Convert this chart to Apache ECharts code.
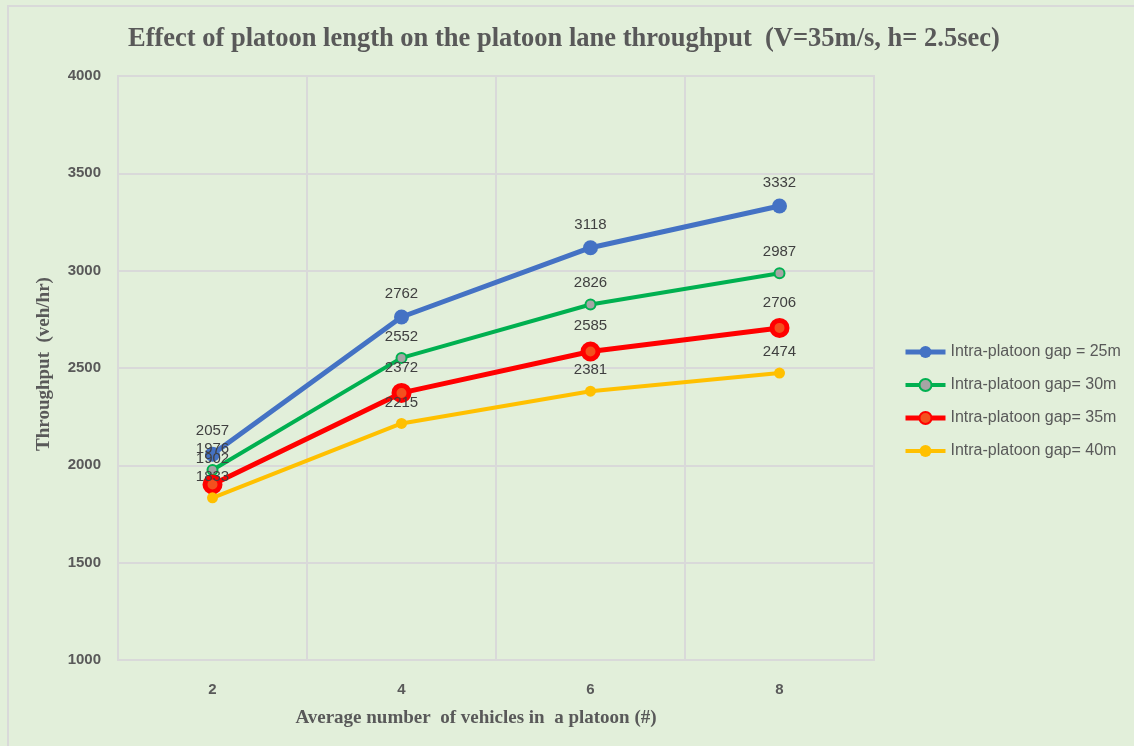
<!DOCTYPE html>
<html>
<head>
<meta charset="utf-8">
<title>Platoon lane throughput</title>
<script src="https://cdn.jsdelivr.net/npm/echarts@6/dist/echarts.min.js"></script>
<style>
  html, body { margin: 0; padding: 0; background: #E2EFDA; }
  #chart { width: 1134px; height: 746px; }
</style>
</head>
<body>
<div id="chart"></div>
<script>
// Average number of vehicles per platoon
const categories = ['2', '4', '6', '8'];

// Lane throughput (veh/hr) for each intra-platoon gap
const gap25 = [2057, 2762, 3118, 3332];
const gap30 = [1976, 2552, 2826, 2987];
const gap35 = [1902, 2372, 2585, 2706];
const gap40 = [1833, 2215, 2381, 2474];

const seriesNames = [
  'Intra-platoon gap = 25m',
  'Intra-platoon gap= 30m',
  'Intra-platoon gap= 35m',
  'Intra-platoon gap= 40m'
];

const yTicks = { min: 1000, max: 4000, interval: 500 };

const SANS = 'Liberation Sans, Arial, sans-serif';
const SERIF_FONT = '"Liberation Serif", "Times New Roman", serif';

const labelStyle = {
  show: true,
  position: 'top',
  distance: 8,
  color: '#404040',
  fontSize: 15,
  fontFamily: SANS
};

function lineSeries(name, data, color, width, size, itemStyle) {
  return {
    name: name,
    type: 'line',
    data: data,
    symbol: 'circle',
    symbolSize: size,
    lineStyle: { color: color, width: width },
    itemStyle: Object.assign({ color: color }, itemStyle || {}),
    label: labelStyle,
    emphasis: { disabled: true },
    animation: false
  };
}

const chart = echarts.init(document.getElementById('chart'));
chart.setOption({
  backgroundColor: '#E2EFDA',
  animation: false,
  title: {
    text: 'Effect of platoon length on the platoon lane throughput  (V=35m/s, h= 2.5sec)',
    left: 128,
    top: 26,
    padding: 0,
    textStyle: {
      fontFamily: SERIF_FONT,
      fontWeight: 'bold',
      fontSize: 26.5,
      color: '#595959'
    }
  },
  grid: {
    left: 118, right: 260, top: 76, bottom: 86,
    show: true,
    borderColor: '#D9D9D9',
    borderWidth: 2,
    backgroundColor: 'transparent'
  },
  legend: {
    orient: 'vertical',
    left: 903,
    top: 344,
    padding: 0,
    itemWidth: 40,
    itemHeight: 15,
    itemGap: 17,
    textStyle: {
      color: '#595959',
      fontSize: 16,
      fontFamily: SANS
    },
    data: [
      { name: seriesNames[0], lineStyle: { width: 5 } },
      { name: seriesNames[1], lineStyle: { width: 4 } },
      { name: seriesNames[2], lineStyle: { width: 5 } },
      { name: seriesNames[3], lineStyle: { width: 4 } }
    ]
  },
  xAxis: {
    type: 'category',
    data: categories,
    boundaryGap: true,
    axisLine: { show: true, lineStyle: { color: '#D9D9D9', width: 2 } },
    axisTick: { show: false },
    splitLine: { show: true, lineStyle: { color: '#D9D9D9', width: 2 } },
    axisLabel: {
      margin: 22,
      color: '#595959',
      fontWeight: 'bold',
      fontSize: 15,
      fontFamily: SANS
    }
  },
  yAxis: {
    type: 'value',
    min: yTicks.min,
    max: yTicks.max,
    interval: yTicks.interval,
    axisLine: { show: false },
    axisTick: { show: false },
    splitLine: { show: true, lineStyle: { color: '#D9D9D9', width: 2 } },
    axisLabel: {
      margin: 17,
      color: '#595959',
      fontWeight: 'bold',
      fontSize: 15,
      fontFamily: SANS,
      formatter: function (v) { return String(v); }
    }
  },
  graphic: [
    {
      type: 'rect',
      left: 7, top: 5,
      shape: { width: 1140, height: 760 },
      style: { fill: 'transparent', stroke: '#D9D9D9', lineWidth: 2 },
      silent: true
    },
    {
      type: 'text',
      x: 476, y: 718,
      style: {
        text: 'Average number  of vehicles in  a platoon (#)',
        fill: '#595959',
        font: 'bold 19px ' + SERIF_FONT,
        textAlign: 'center',
        textVerticalAlign: 'middle'
      }
    },
    {
      type: 'text',
      x: 44, y: 364,
      rotation: Math.PI / 2,
      style: {
        text: 'Throughput  (veh/hr)',
        fill: '#595959',
        font: 'bold 19px ' + SERIF_FONT,
        textAlign: 'center',
        textVerticalAlign: 'middle'
      }
    }
  ],
  series: [
    lineSeries(seriesNames[0], gap25, '#4472C4', 5, 15),
    lineSeries(seriesNames[1], gap30, '#00B050', 4, 10,
      { color: '#A5A5A5', borderColor: '#00B050', borderWidth: 2 }),
    lineSeries(seriesNames[2], gap35, '#FF0000', 5, 15,
      { color: '#F4501E', borderColor: '#FF0000', borderWidth: 5 }),
    lineSeries(seriesNames[3], gap40, '#FFC000', 4, 11)
  ]
});
</script>
</body>
</html>
